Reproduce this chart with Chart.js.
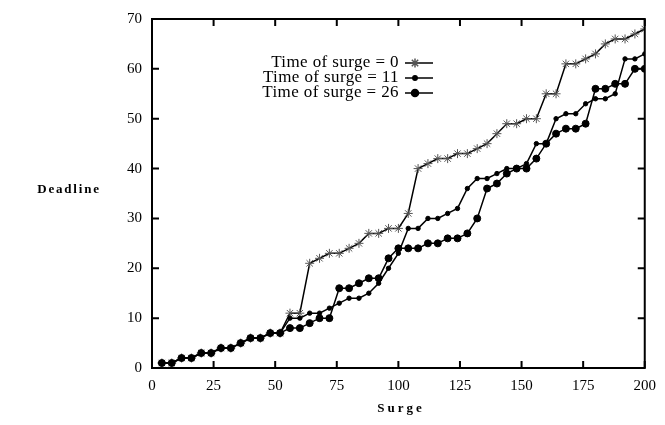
<!DOCTYPE html>
<html>
<head>
<meta charset="utf-8">
<script src="https://cdn.jsdelivr.net/npm/chart.js@4.4.1/dist/chart.umd.min.js"></script>
<style>
  body { margin: 0; background: #fff; }
  #wrap { width: 665px; height: 425px; }
</style>
</head>
<body>
<div id="wrap"><canvas id="chart"></canvas></div>
<script>
// Surge values (x) and deadlines for each surge time
const surge = [4, 8, 12, 16, 20, 24, 28, 32, 36, 40, 44, 48, 52, 56, 60, 64, 68, 72, 76, 80,
  84, 88, 92, 96, 100, 104, 108, 112, 116, 120, 124, 128, 132, 136, 140, 144, 148, 152, 156, 160,
  164, 168, 172, 176, 180, 184, 188, 192, 196, 200];

const deadline0 = [1, 1, 2, 2, 3, 3, 4, 4, 5, 6, 6, 7, 7, 11, 11, 21, 22, 23, 23, 24,
  25, 27, 27, 28, 28, 31, 40, 41, 42, 42, 43, 43, 44, 45, 47, 49, 49, 50, 50, 55,
  55, 61, 61, 62, 63, 65, 66, 66, 67, 68];

const deadline11 = [1, 1, 2, 2, 3, 3, 4, 4, 5, 6, 6, 7, 7, 10, 10, 11, 11, 12, 13, 14,
  14, 15, 17, 20, 23, 28, 28, 30, 30, 31, 32, 36, 38, 38, 39, 40, 40, 41, 45, 45,
  50, 51, 51, 53, 54, 54, 55, 62, 62, 63];

const deadline26 = [1, 1, 2, 2, 3, 3, 4, 4, 5, 6, 6, 7, 7, 8, 8, 9, 10, 10, 16, 16,
  17, 18, 18, 22, 24, 24, 24, 25, 25, 26, 26, 27, 30, 36, 37, 39, 40, 40, 42, 45,
  47, 48, 48, 49, 56, 56, 57, 57, 60, 60];

const seriesLabels = ['Time of surge = 0', 'Time of surge = 11', 'Time of surge = 26'];
const xTicks = [0, 25, 50, 75, 100, 125, 150, 175, 200];
const yTicks = [0, 10, 20, 30, 40, 50, 60, 70];

const serif = '"Liberation Serif", "Times New Roman", serif';

function toPoints(ys) {
  return surge.map((x, i) => ({ x: x, y: ys[i] }));
}

const styles = [
  { pointStyle: 'star', radius: 4.5, color: '#555', border: 1 },
  { pointStyle: 'circle', radius: 2.2, color: '#000', border: 1 },
  { pointStyle: 'circle', radius: 3.5, color: '#000', border: 1 }
];

// frame, inward ticks, axis titles and legend
const decorations = {
  id: 'decorations',
  afterDraw(chart) {
    const ctx = chart.ctx;
    const a = chart.chartArea;
    const xs = chart.scales.x;
    const ys = chart.scales.y;
    ctx.save();
    ctx.strokeStyle = '#000';
    ctx.lineWidth = 2;
    ctx.strokeRect(a.left, a.top, a.right - a.left, a.bottom - a.top);

    const len = 7;
    ctx.beginPath();
    xTicks.forEach(v => {
      const px = xs.getPixelForValue(v);
      ctx.moveTo(px, a.bottom); ctx.lineTo(px, a.bottom - len);
      ctx.moveTo(px, a.top); ctx.lineTo(px, a.top + len);
    });
    yTicks.forEach(v => {
      const py = ys.getPixelForValue(v);
      ctx.moveTo(a.left, py); ctx.lineTo(a.left + len, py);
      ctx.moveTo(a.right, py); ctx.lineTo(a.right - len, py);
    });
    ctx.stroke();

    // axis titles
    ctx.fillStyle = '#000';
    ctx.font = 'bold 13px ' + serif;
    ctx.letterSpacing = '1.8px';
    ctx.textAlign = 'center';
    ctx.textBaseline = 'middle';
    ctx.fillText('Deadline', 69, 190);
    ctx.letterSpacing = '3px';
    ctx.fillText('Surge', 401, 409);

    // legend: text then sample line with marker
    ctx.letterSpacing = '0.4px';
    ctx.font = '17px ' + serif;
    ctx.textAlign = 'right';
    const rows = [63, 78, 93];
    chart.data.datasets.forEach((ds, i) => {
      const y = rows[i];
      ctx.fillStyle = '#000';
      ctx.fillText(ds.label, 399, y);
      ctx.strokeStyle = '#000';
      ctx.lineWidth = 1.5;
      ctx.beginPath();
      ctx.moveTo(405, y); ctx.lineTo(433, y);
      ctx.stroke();
      const st = styles[i];
      ctx.fillStyle = st.color;
      ctx.strokeStyle = st.color;
      Chart.helpers.drawPoint(ctx, {
        pointStyle: st.pointStyle, radius: st.radius, borderWidth: st.border, rotation: 0
      }, 415, y);
    });
    ctx.restore();
  }
};

const datasets = [deadline0, deadline11, deadline26].map((d, i) => ({
  label: seriesLabels[i],
  data: toPoints(d),
  order: 3 - i,
  borderColor: '#000',
  borderWidth: 1.5,
  pointStyle: styles[i].pointStyle,
  pointRadius: styles[i].radius,
  pointBackgroundColor: styles[i].color,
  pointBorderColor: styles[i].color,
  pointBorderWidth: styles[i].border,
  tension: 0,
  fill: false
}));

new Chart(document.getElementById('chart'), {
  type: 'line',
  data: { datasets: datasets },
  options: {
    responsive: true,
    maintainAspectRatio: false,
    animation: false,
    devicePixelRatio: 1,
    layout: { padding: { left: 0, top: 14, right: 18, bottom: 0 } },
    plugins: {
      legend: { display: false },
      tooltip: { enabled: false }
    },
    scales: {
      x: {
        type: 'linear',
        min: 0,
        max: 200,
        afterFit: s => { s.height = 57; },
        afterBuildTicks: s => { s.ticks = xTicks.map(v => ({ value: v })); },
        grid: { display: false, drawTicks: false },
        border: { display: false },
        ticks: { color: '#000', font: { family: serif, size: 15 }, padding: 9, maxRotation: 0 }
      },
      y: {
        min: 0,
        max: 70,
        afterFit: s => { s.width = 152; },
        afterBuildTicks: s => { s.ticks = yTicks.map(v => ({ value: v })); },
        grid: { display: false, drawTicks: false },
        border: { display: false },
        ticks: { color: '#000', font: { family: serif, size: 15 }, padding: 10 }
      }
    }
  },
  plugins: [decorations]
});
</script>
</body>
</html>
